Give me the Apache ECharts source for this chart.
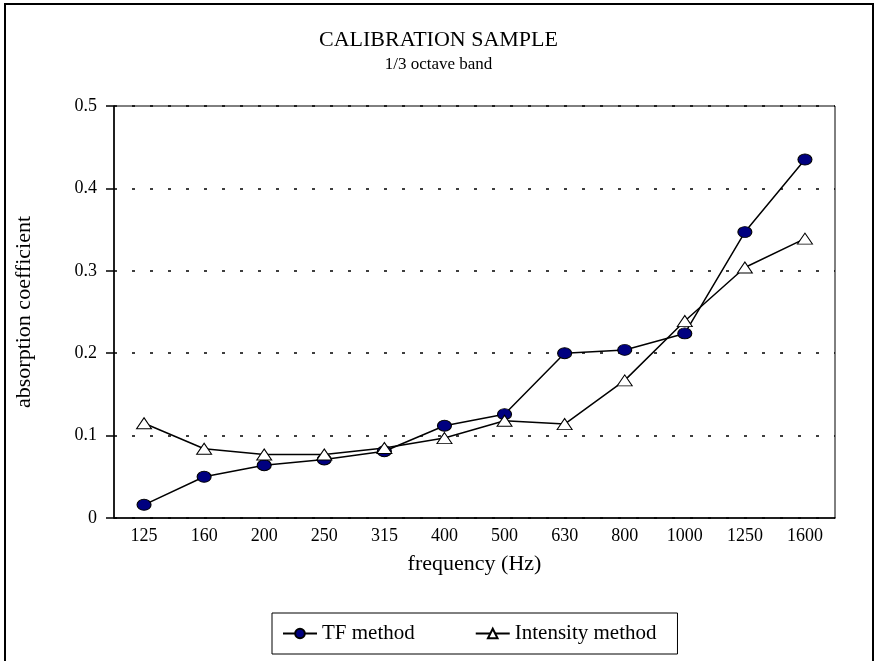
<!DOCTYPE html>
<html>
<head>
<meta charset="utf-8">
<script src="https://cdn.jsdelivr.net/npm/echarts@6/dist/echarts.min.js"></script>
<style>
  html, body { margin: 0; padding: 0; background: #fff; }
  #chart { width: 877px; height: 661px; }
</style>
</head>
<body>
<div id="chart"></div>
<script>
const frequencies = ['125', '160', '200', '250', '315', '400', '500', '630', '800', '1000', '1250', '1600'];
const tfMethod = [0.016, 0.050, 0.064, 0.071, 0.081, 0.112, 0.126, 0.200, 0.204, 0.224, 0.347, 0.435];
const intensityMethod = [0.115, 0.084, 0.077, 0.077, 0.085, 0.097, 0.118, 0.114, 0.167, 0.239, 0.304, 0.339];
const titleText = 'CALIBRATION SAMPLE';
const subtitleText = '1/3 octave band';
const xName = 'frequency (Hz)';
const yName = 'absorption coefficient';

const serif = '"Liberation Serif", "DejaVu Serif", serif';
const chart = echarts.init(document.getElementById('chart'));
chart.setOption({
  animation: false,
  backgroundColor: '#fff',
  graphic: [{
    type: 'rect',
    shape: { x: 5, y: 4, width: 868, height: 700 },
    style: { fill: 'none', stroke: '#000', lineWidth: 2 },
    silent: true
  }],
  title: {
    text: titleText,
    subtext: subtitleText,
    left: 'center',
    top: 24,
    itemGap: 5,
    textStyle: { fontFamily: serif, fontSize: 22, fontWeight: 'normal', color: '#000' },
    subtextStyle: { fontFamily: serif, fontSize: 17, color: '#000' }
  },
  grid: {
    left: 114, right: 42, top: 106, bottom: 143,
    show: true, borderColor: '#000', borderWidth: 1, backgroundColor: 'transparent'
  },
  legend: {
    left: 272, top: 613,
    data: ['TF method', 'Intensity method'],
    borderColor: '#000', borderWidth: 1,
    padding: [10, 21, 10, 10],
    itemGap: 60,
    itemWidth: 34, itemHeight: 12,
    textStyle: { fontFamily: serif, fontSize: 21, color: '#000' }
  },
  xAxis: {
    type: 'category',
    data: frequencies,
    boundaryGap: true,
    name: xName,
    nameLocation: 'middle',
    nameGap: 35,
    nameTextStyle: { fontFamily: serif, fontSize: 22, color: '#000' },
    axisLine: { lineStyle: { color: '#000', width: 1.5 } },
    axisTick: { alignWithLabel: true, length: 6, lineStyle: { color: '#000', width: 1.5 } },
    axisLabel: { fontFamily: serif, fontSize: 18, color: '#000', margin: 9 },
    splitLine: { show: false }
  },
  yAxis: {
    type: 'value',
    min: 0, max: 0.5, interval: 0.1,
    name: yName,
    nameLocation: 'middle',
    nameRotate: 90,
    nameGap: 79,
    nameTextStyle: { fontFamily: serif, fontSize: 22, color: '#000' },
    axisLine: { show: true, lineStyle: { color: '#000', width: 1.5 } },
    axisTick: { show: true, length: 8, lineStyle: { color: '#000', width: 1.5 } },
    axisLabel: { fontFamily: serif, fontSize: 18, color: '#000', margin: 17 },
    splitLine: { show: true, lineStyle: { color: '#000', width: 1.5, type: [3, 15] } }
  },
  series: [
    {
      name: 'TF method',
      type: 'line',
      data: tfMethod,
      symbol: 'circle',
      symbolSize: [14, 11],
      lineStyle: { color: '#000', width: 1.5 },
      itemStyle: { color: '#000080', borderColor: '#000', borderWidth: 1 }
    },
    {
      name: 'Intensity method',
      type: 'line',
      data: intensityMethod,
      symbol: 'triangle',
      symbolSize: [15, 11],
      lineStyle: { color: '#000', width: 1.5 },
      itemStyle: { color: '#fff', borderColor: '#000', borderWidth: 1 }
    }
  ]
});
</script>
</body>
</html>
